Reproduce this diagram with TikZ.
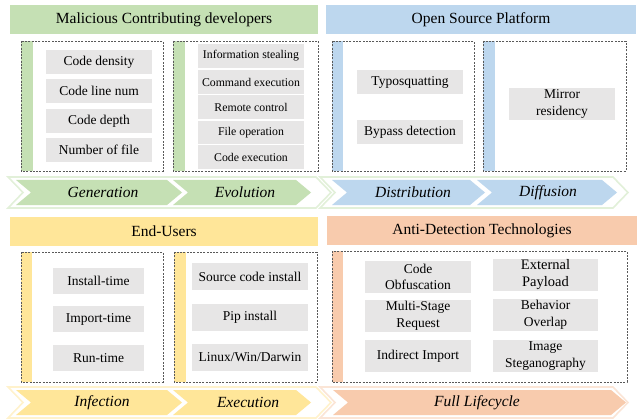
\documentclass[tikz,border=0pt]{standalone}
\usepackage{fontspec}
\setmainfont{Liberation Serif}
\definecolor{hgreen}{HTML}{C5E0B4}
\definecolor{hblue}{HTML}{BDD7EE}
\definecolor{hyellow}{HTML}{FFE699}
\definecolor{horange}{HTML}{F8CBAD}
\definecolor{pgreen}{HTML}{E2F0D9}
\definecolor{pyellow}{HTML}{FFF2CC}
\definecolor{porange}{HTML}{FBE5D6}
\definecolor{boxgray}{HTML}{E7E6E6}
\definecolor{dashgray}{HTML}{595959}
\tikzset{
  header/.style={inner sep=0pt, minimum height=29pt, font=\fontsize{15.5}{17}\selectfont},
  gbox/.style={fill=boxgray, inner sep=0pt, align=center, font=\fontsize{13.5}{16.5}\selectfont},
  sbox/.style={fill=boxgray, inner sep=0pt, align=center, minimum width=106pt, minimum height=23.5pt, font=\fontsize{11.8}{14}\selectfont},
  dbox/.style={draw=dashgray, dash pattern=on 2pt off 1.3pt, line width=0.8pt},
  outl/.style={line width=1.6pt, fill=white},
  chev/.style={font=\fontsize{15.5}{17}\selectfont\itshape},
}
\begin{document}
\begin{tikzpicture}[x=1pt,y=-1pt]
\useasboundingbox (0,0) rectangle (641,420);
% headers
\node[header, fill=hgreen, minimum width=308pt] (h1) at (164,20) {Malicious Contributing developers};
\node[header, fill=hblue, minimum width=310pt] (h2) at (481,20) {Open Source Platform};
\node[header, fill=hyellow, minimum width=308pt] (h3) at (164,231.5) {End-Users};
\node[header, fill=horange, minimum width=310pt] (h4) at (482,230.5) {Anti-Detection Technologies};
% bars
\fill[hgreen] (21,41) rectangle (33,171);
\fill[hgreen] (173,41) rectangle (185,171);
\fill[hblue] (332,41) rectangle (343,171);
\fill[hblue] (483,41) rectangle (495,171);
\fill[hyellow] (21,252) rectangle (32,382);
\fill[hyellow] (174,252) rectangle (186,382);
\fill[horange] (332,251) rectangle (343,382);
% dashed boxes
\draw[dbox] (21,41) rectangle (163,171);
\draw[dbox] (173,41) rectangle (318,171);
\draw[dbox] (332,41) rectangle (474,171);
\draw[dbox] (483,41) rectangle (626,171);
\draw[dbox] (21,252) rectangle (163,382);
\draw[dbox] (174,252) rectangle (317,382);
\draw[dbox] (332,251) rectangle (627,382);
% Generation boxes
\node[gbox, minimum width=106pt, minimum height=24pt] (g1) at (99,62) {Code density};
\node[gbox, minimum width=106pt, minimum height=24pt] (g2) at (99,91) {Code line num};
\node[gbox, minimum width=106pt, minimum height=24pt] (g3) at (99,121) {Code depth};
\node[gbox, minimum width=106pt, minimum height=24pt] (g4) at (99,150) {Number of file};
% Evolution boxes
\node[sbox] (e1) at (251,56) {Information stealing};
\node[sbox] (e2) at (251,82) {Command execution};
\node[sbox] (e3) at (251,107) {Remote control};
\node[sbox] (e4) at (251,132.5) {File operation};
\node[sbox] (e5) at (251,157) {Code execution};
% Distribution / Diffusion
\node[gbox, minimum width=106pt, minimum height=24pt] (d1) at (410,82) {Typosquatting};
\node[gbox, minimum width=106pt, minimum height=24pt] (d2) at (410,132) {Bypass detection};
\node[gbox, minimum width=106pt, minimum height=32pt] (f1) at (562,104) {Mirror\\residency};
% Infection
\node[gbox, minimum width=91pt, minimum height=26pt] (i1) at (98.5,280.5) {Install-time};
\node[gbox, minimum width=91pt, minimum height=26pt] (i2) at (98.5,319) {Import-time};
\node[gbox, minimum width=91pt, minimum height=26pt] (i3) at (98.5,358) {Run-time};
% Execution
\node[gbox, minimum width=116pt, minimum height=27pt] (x1) at (250,276.5) {Source code install};
\node[gbox, minimum width=116pt, minimum height=27pt] (x2) at (250,317.5) {Pip install};
\node[gbox, minimum width=116pt, minimum height=27pt] (x3) at (250,357.5) {Linux/Win/Darwin};
% Anti-detection
\node[gbox, minimum width=106pt, minimum height=32pt] (a1) at (418,277) {Code\\Obfuscation};
\node[gbox, minimum width=105pt, minimum height=32pt, font=\fontsize{14.5}{17}\selectfont] (a2) at (545.5,275) {External\\Payload};
\node[gbox, minimum width=106pt, minimum height=32pt] (a3) at (418,316) {Multi-Stage\\Request};
\node[gbox, minimum width=105pt, minimum height=32pt] (a4) at (545.5,315) {Behavior\\Overlap};
\node[gbox, minimum width=106pt, minimum height=32pt] (a5) at (418,356) {Indirect Import};
\node[gbox, minimum width=105pt, minimum height=32pt] (a6) at (545.5,356) {Image\\Steganography};
% chevron outlines
\draw[outl, draw=pgreen] (8,177) -- (316,177) -- (331,192.5) -- (316,208) -- (8,208) -- (23,192.5) -- cycle;
\draw[outl, draw=pgreen] (320,177) -- (613,177) -- (628,192.5) -- (613,208) -- (320,208) -- (335,192.5) -- cycle;
\draw[outl, draw=pyellow] (8,387) -- (316,387) -- (331,402.5) -- (316,418) -- (8,418) -- (23,402.5) -- cycle;
\draw[outl, draw=porange] (320,387) -- (613,387) -- (628,402.5) -- (613,418) -- (320,418) -- (335,402.5) -- cycle;
% chevron fills
\fill[hgreen] (16,180) -- (167,180) -- (182,192.5) -- (167,205) -- (16,205) -- (31,192.5) -- cycle;
\fill[hgreen] (173,180) -- (296,180) -- (311,192.5) -- (296,205) -- (173,205) -- (188,192.5) -- cycle;
\fill[hblue] (332,180) -- (470,180) -- (485,192.5) -- (470,205) -- (332,205) -- (347,192.5) -- cycle;
\fill[hblue] (477,180) -- (602,180) -- (617,192.5) -- (602,205) -- (477,205) -- (492,192.5) -- cycle;
\fill[hyellow] (16,390) -- (167,390) -- (182,402.5) -- (167,415) -- (16,415) -- (31,402.5) -- cycle;
\fill[hyellow] (173,390) -- (296,390) -- (311,402.5) -- (296,415) -- (173,415) -- (188,402.5) -- cycle;
\fill[horange] (333,390) -- (611,390) -- (626,402.5) -- (611,415) -- (333,415) -- (348,402.5) -- cycle;
% chevron labels
\node[chev] (c1) at (103,192.5) {Generation};
\node[chev] (c2) at (245,192.5) {Evolution};
\node[chev] (c3) at (413,192.5) {Distribution};
\node[chev] (c4) at (548,192.5) {Diffusion};
\node[chev] (c5) at (102,402.5) {Infection};
\node[chev] (c6) at (248,402.5) {Execution};
\node[chev] (c7) at (477,402.5) {Full Lifecycle};
\end{tikzpicture}
\end{document}
